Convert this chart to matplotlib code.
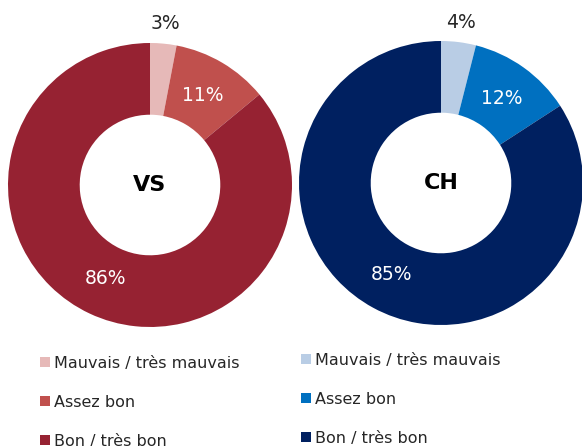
import numpy as np
import matplotlib.pyplot as plt
from matplotlib.patches import Patch

categories = ["Mauvais / très mauvais", "Assez bon", "Bon / très bon"]
vs_values = [3, 11, 86]
ch_values = [4, 12, 85]
vs_colors = ["#e6b9b8", "#c0504d", "#962232"]
ch_colors = ["#b9cde5", "#0070c0", "#002060"]

W, H = 582, 446
fig = plt.figure(figsize=(W / 100, H / 100), dpi=100)


def donut(box, values, colors, titre):
    ax = fig.add_axes(box)
    wedges, _ = ax.pie(values, colors=colors, startangle=90, counterclock=False,
                       radius=1, wedgeprops=dict(width=0.505, linewidth=0))
    for i, (w, v) in enumerate(zip(wedges, values)):
        ang = np.deg2rad((w.theta1 + w.theta2) / 2)
        if i == 0:
            r, col = 1.14, "#262626"
        else:
            r, col = 0.73, "white"
        ax.text(r * np.cos(ang), r * np.sin(ang), f"{v}%", ha="center", va="center",
                fontsize=13.5, color=col)
    ax.text(0, 0, titre, ha="center", va="center", fontsize=16, fontweight="bold", color="black")
    ax.set_xlim(-1, 1)
    ax.set_ylim(-1, 1)
    ax.set_aspect("equal")
    ax.axis("off")
    return wedges


donut([8 / W, 119 / H, 284 / W, 284 / H], vs_values, vs_colors, "VS")
donut([299 / W, 121 / H, 284 / W, 284 / H], ch_values, ch_colors, "CH")


def legende(x, y, colors):
    handles = [Patch(facecolor=c, edgecolor="none") for c in colors]
    fig.legend(handles, categories, loc="upper left", bbox_to_anchor=(x / W, 1 - y / H),
               frameon=False, fontsize=11.5, handlelength=0.6, handleheight=0.6,
               handletextpad=0.3, labelspacing=1.5, borderaxespad=0, borderpad=0,
               labelcolor="#262626")


legende(40, 356, vs_colors)
legende(301, 353, ch_colors)

fig.savefig("out.png", dpi=100)
